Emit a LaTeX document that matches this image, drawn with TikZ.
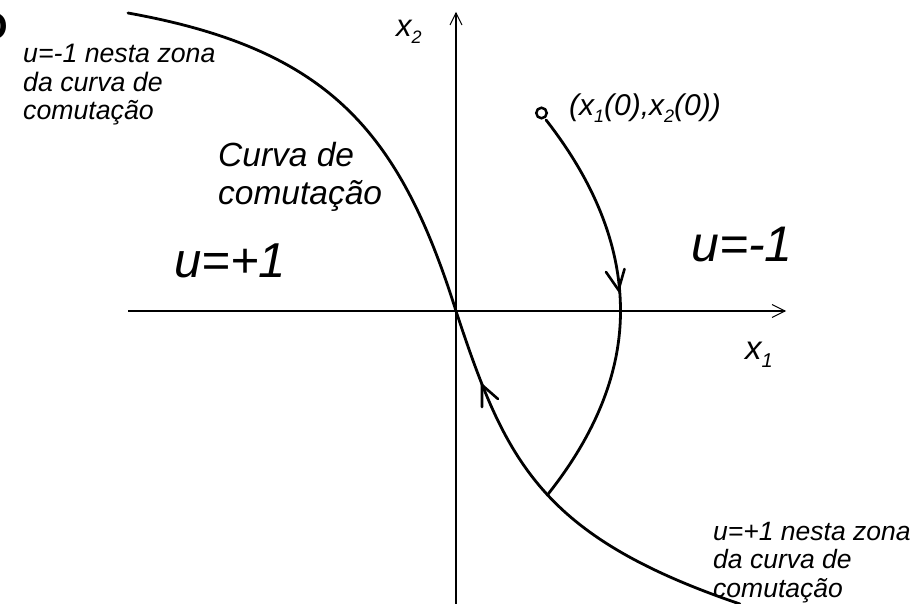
\documentclass[tikz,border=0pt]{standalone}
\usepackage{fontspec}
\setmainfont{Liberation Sans}
\newcommand\myfs[2]{\fontsize{#1}{#2}\selectfont}
\begin{document}
\begin{tikzpicture}[x=1pt,y=-1pt,
  lbl/.style={anchor=base west,inner sep=0pt,font=\itshape},
  axis/.style={line width=1.1pt},
  curve/.style={line width=2.8pt,line cap=round,line join=round},
  barb/.style={line width=2.6pt,line cap=round,line join=miter}]
\useasboundingbox (0,0) rectangle (918,604);
% cropped glyph at the top-left corner
\node[anchor=base,inner sep=0pt,font=\myfs{38}{38}\bfseries] (cut) at (-7,40) {O};
% axes
\coordinate (xl) at (128,311);
\coordinate (xr) at (785,311);
\coordinate (yb) at (456,604);
\coordinate (yt) at (456,13);
\draw[axis] (xl) -- (xr);
\draw[axis] (yb) -- (yt);
\draw[axis] ([shift={(-13,-6.5)}]xr) -- (xr) -- ([shift={(-13,6.5)}]xr);
\draw[axis] ([shift={(-6,12)}]yt) -- (yt) -- ([shift={(6,12)}]yt);
% switching curve
\coordinate (s0) at (128,13);
\coordinate (o) at (456,311);
\coordinate (s1) at (740,604);
\draw[curve] (s0) .. controls (328,49) and (399,130) .. (o)
                  .. controls (505.5,461) and (540,536) .. (s1);
% trajectory (parabolic arcs)
\node[circle,draw,line width=2.5pt,minimum size=10.5pt,inner sep=0pt] (x0) at (541.5,113) {};
\draw[curve] plot[variable=\t,domain=120:311,samples=60] ({620.5-0.204*((\t-311)/10)^2},\t)
             -- plot[variable=\t,domain=311:495,samples=60] ({620.5-0.216*((\t-311)/10)^2},\t);
% arrowheads on the curves
\coordinate (ta) at (618.5,290);
\draw[barb] (606,272) -- (ta) -- (624.5,269);
\coordinate (sa) at (482,385);
\draw[barb] (482,407) -- (sa) -- (498,399);
% labels
\node[lbl,font=\itshape\myfs{26.7}{26.7}] (l1) at (23,63) {u=-1 nesta zona};
\node[lbl,font=\itshape\myfs{26.7}{26.7}] (l2) at (23,92) {da curva de};
\node[lbl,font=\itshape\myfs{26.7}{26.7}] (l3) at (23,120) {comutação};
\node[lbl,font=\itshape\myfs{33.5}{33.5}] (c1) at (218,167) {Curva de};
\node[lbl,font=\itshape\myfs{33.5}{33.5}] (c2) at (218,205) {comutação};
\node[lbl,font=\itshape\myfs{49}{49}] (up) at (174,277) {u=+1};
\node[lbl,font=\itshape\myfs{50}{50}] (um) at (691,261) {u=-1};
\node[lbl,font=\itshape\myfs{31}{31}] (x2) at (396,37) {x\raisebox{-7pt}{\myfs{18}{18}2}};
\node[lbl,font=\itshape\myfs{33}{33}] (x1) at (745,359) {x\raisebox{-8pt}{\myfs{20}{20}1}};
\node[lbl,font=\itshape\myfs{30}{30}] (ic) at (569,116) {(x\raisebox{-7pt}{\myfs{18}{18}1}(0),x\raisebox{-7pt}{\myfs{18}{18}2}(0))};
\node[lbl,font=\itshape\myfs{26.5}{26.5}] (r1) at (713,540) {u=+1 nesta zona};
\node[lbl,font=\itshape\myfs{26.5}{26.5}] (r2) at (713,568) {da curva de};
\node[lbl,font=\itshape\myfs{26.5}{26.5}] (r3) at (713,597) {comutação};
\end{tikzpicture}
\end{document}
